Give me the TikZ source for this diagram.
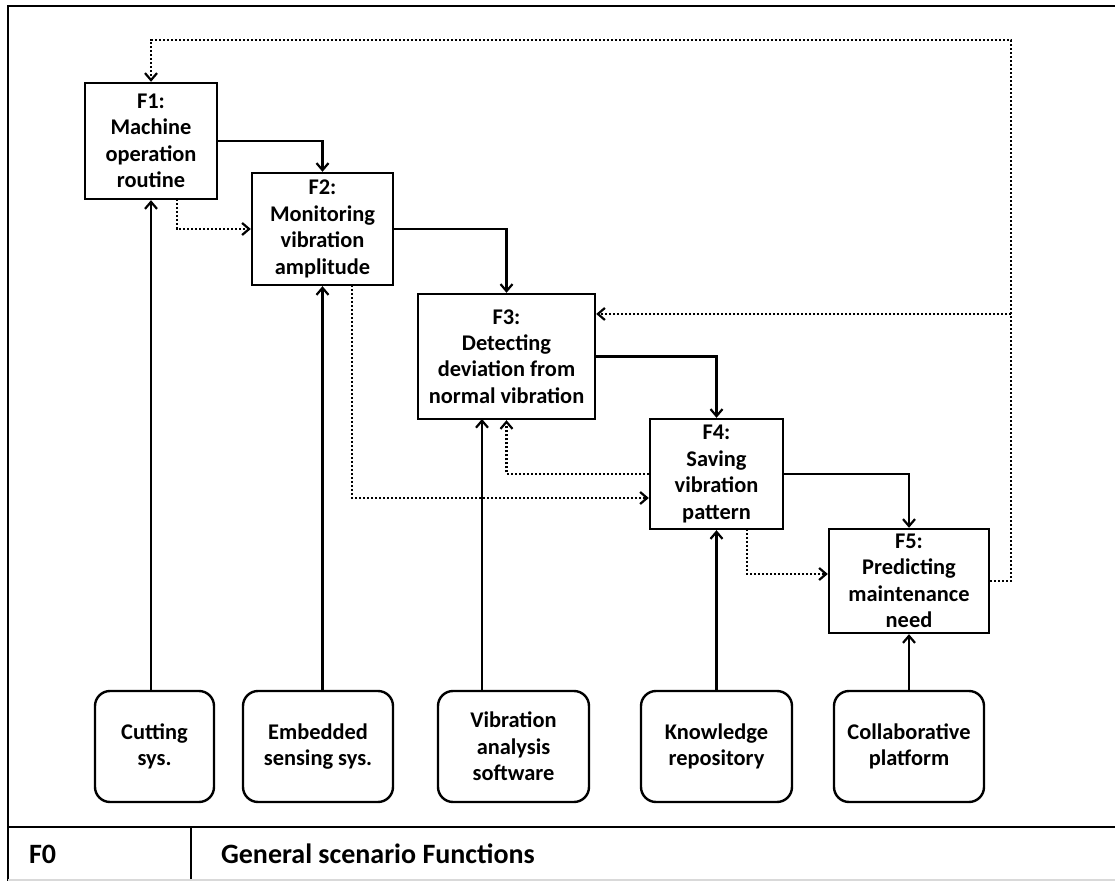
\documentclass[tikz,border=0pt]{standalone}
\usepackage{fontspec}
\setmainfont{Carlito}
\usetikzlibrary{arrows.meta,calc}
\begin{document}
\begin{tikzpicture}[x=0.5pt,y=-0.5pt,
  fbox/.style={draw,line width=1.2pt,inner sep=0pt,align=center,
    font=\bfseries\fontsize{11.2}{13.2}\selectfont},
  rbox/.style={fbox,rounded corners=7.5pt,minimum height=55.5pt},
  arr/.style={line width=1.1pt,-{Straight Barb[length=3.5pt,width=6pt,line width=1.1pt]}},
  dotarr/.style={line width=1.2pt,dash pattern=on 1.1pt off 0.9pt,
    -{Straight Barb[length=3.5pt,width=6pt,line width=1.1pt]}},
  frameline/.style={line width=1.3pt}]
\useasboundingbox (0,0) rectangle (1115,881);
% frame
\draw[frameline] (8,881) -- (8,6) -- (1115,6);
\draw[frameline] (8,827) -- (1115,827);
\draw[frameline] (191,827) -- (191,881);
\draw[gray!30,line width=0.6pt] (8,880) -- (1115,880);
\node[anchor=west,font=\bfseries\fontsize{14}{16}\selectfont] (f0) at (22,854) {F0};
\node[anchor=west,font=\bfseries\fontsize{14}{16}\selectfont] (gsf) at (214,854) {General scenario Functions};
% function boxes
\node[fbox,minimum width=66pt,minimum height=58pt] (F1) at (151,141) {F1:\\Machine\\operation\\routine};
\node[fbox,minimum width=70.5pt,minimum height=56pt] (F2) at (322.5,229) {F2:\\Monitoring\\vibration\\amplitude};
\node[fbox,minimum width=88.5pt,minimum height=62.5pt] (F3) at (506.5,356.5) {F3:\\Detecting\\deviation from\\normal vibration};
\node[fbox,minimum width=66.5pt,minimum height=55pt] (F4) at (716.5,474) {F4:\\Saving\\vibration\\pattern};
\node[fbox,minimum width=80pt,minimum height=52pt] (F5) at (909,581) {F5:\\Predicting\\maintenance\\need};
% resource boxes
\node[rbox,minimum width=59.5pt] (cut) at (154.5,746.5) {Cutting\\sys.};
\node[rbox,minimum width=75pt] (emb) at (318,746.5) {Embedded\\sensing sys.};
\node[rbox,minimum width=75.5pt] (vib) at (513.5,746.5) {Vibration\\analysis\\software};
\node[rbox,minimum width=75.5pt] (kno) at (716.5,746.5) {Knowledge\\repository};
\node[rbox,minimum width=75pt] (col) at (909,746.5) {Collaborative\\platform};
% main flow
\draw[arr] (F1.east) -| (F2.north);
\draw[arr] (F2.east) -| (F3.north);
\draw[arr] (F3.east) -| (F4.north);
\draw[arr] (F4.east) -| (F5.north);
% inputs
\coordinate (v3) at (482,419);
\draw[arr] (F1.south |- cut.north) -- (F1.south);
\draw[arr] (F2.south |- emb.north) -- (F2.south);
\draw[arr] (v3 |- vib.north) -- (v3);
\draw[arr] (F4.south |- kno.north) -- (F4.south);
\draw[arr] (F5.south |- col.north) -- (F5.south);
% dotted links
\coordinate (d12) at (177,199);
\coordinate (d24) at (352,285);
\coordinate (d45) at (747,529);
\coordinate (fbx) at (1011,40);
\coordinate (fb3) at (1011,314);
\draw[dotarr] (d12) |- (F2.west);
\draw[dotarr] (d24) |- ([yshift=-12pt]F4.west);
\draw[dotarr] (F4.west) -| (F3.south);
\draw[dotarr] (d45) |- ([yshift=3.5pt]F5.west);
\draw[dotarr] (F5.east) -| (fbx) -| (F1.north);
\draw[dotarr] (fb3) -- (fb3 -| F3.east);
\end{tikzpicture}
\end{document}
